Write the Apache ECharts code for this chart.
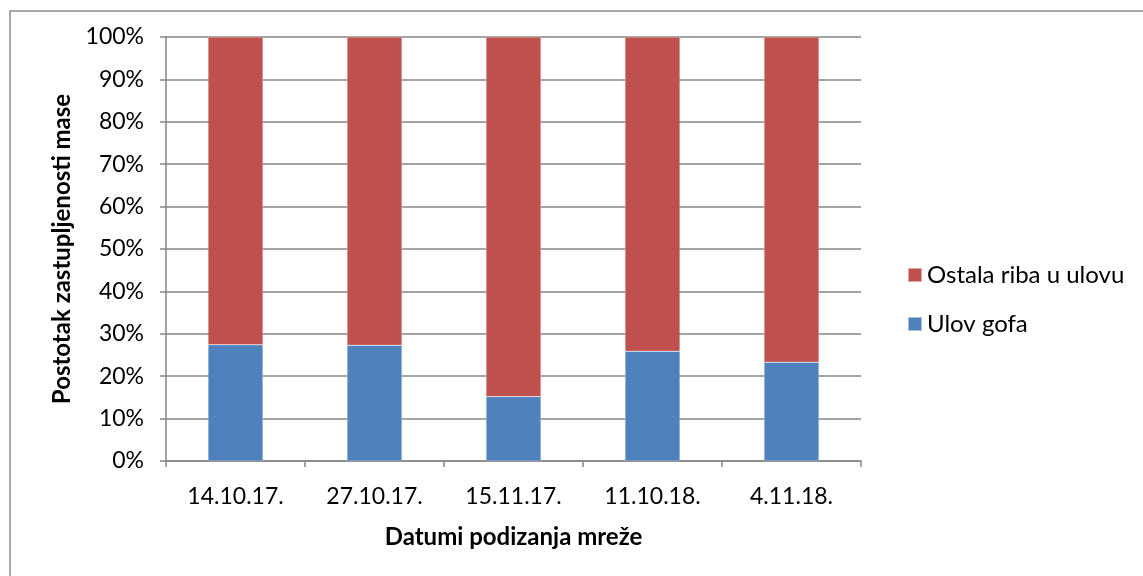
<!DOCTYPE html>
<html>
<head>
<meta charset="utf-8">
<script src="https://cdn.jsdelivr.net/npm/echarts@6/dist/echarts.min.js"></script>
<style>
html,body{margin:0;padding:0;background:#fff;}
#chart{width:1143px;height:576px;}
</style>
</head>
<body>
<div id="chart"></div>
<script>
const categories = ['14.10.17.', '27.10.17.', '15.11.17.', '11.10.18.', '4.11.18.'];
const ulovGofa = [27.4, 27.3, 15.2, 25.9, 23.3];
const ostalaRiba = [72.6, 72.7, 84.8, 74.1, 76.7];
const seriesNames = ['Ulov gofa', 'Ostala riba u ulovu'];
const yAxisName = 'Postotak zastupljenosti mase';
const xAxisName = 'Datumi podizanja mreže';

const FONT = 'Lato, "Open Sans", sans-serif';
const chart = echarts.init(document.getElementById('chart'));
chart.setOption({
  animation: false,
  backgroundColor: '#fff',
  graphic: [{
    type: 'rect', left: 7.5, top: 8.5,
    shape: { width: 1160, height: 600 },
    style: { fill: 'none', stroke: '#8c8c8c', lineWidth: 1.5 },
    silent: true
  }],
  grid: { left: 166, right: 282, top: 37, bottom: 115 },
  legend: {
    orient: 'vertical', left: 902, top: 258,
    itemWidth: 14, itemHeight: 14, itemGap: 25,
    icon: 'rect',
    data: [seriesNames[1], seriesNames[0]],
    textStyle: { fontFamily: FONT, fontSize: 24, color: '#000' }
  },
  xAxis: {
    type: 'category', data: categories,
    boundaryGap: true,
    name: xAxisName, nameLocation: 'middle', nameGap: 64,
    nameTextStyle: { fontFamily: FONT, fontSize: 24, fontWeight: 'bold', color: '#000' },
    axisLine: { lineStyle: { color: '#868686', width: 1.5 } },
    axisTick: { show: true, length: 6, alignWithLabel: false, lineStyle: { color: '#868686', width: 1.5 } },
    axisLabel: { fontFamily: FONT, fontSize: 23, color: '#000', margin: 24 }
  },
  yAxis: {
    type: 'value', min: 0, max: 100, interval: 10,
    name: yAxisName, nameLocation: 'middle', nameGap: 92,
    nameTextStyle: { fontFamily: FONT, fontSize: 24, fontWeight: 'bold', color: '#000' },
    axisLine: { show: true, lineStyle: { color: '#868686', width: 1.5 } },
    axisTick: { show: true, length: 6, lineStyle: { color: '#868686', width: 1.5 } },
    axisLabel: { fontFamily: FONT, fontSize: 23, color: '#000', margin: 22, formatter: '{value}%' },
    splitLine: { show: true, lineStyle: { color: '#868686', width: 1.5 } }
  },
  series: [
    {
      name: seriesNames[0], type: 'bar', stack: 'total', data: ulovGofa,
      barWidth: 55,
      itemStyle: { color: '#4F81BD', borderColor: 'rgba(255,255,255,0.5)', borderWidth: 0.5 }
    },
    {
      name: seriesNames[1], type: 'bar', stack: 'total', data: ostalaRiba,
      barWidth: 55,
      itemStyle: { color: '#C0504D', borderColor: 'rgba(255,255,255,0.5)', borderWidth: 0.5 }
    }
  ]
});
</script>
</body>
</html>
